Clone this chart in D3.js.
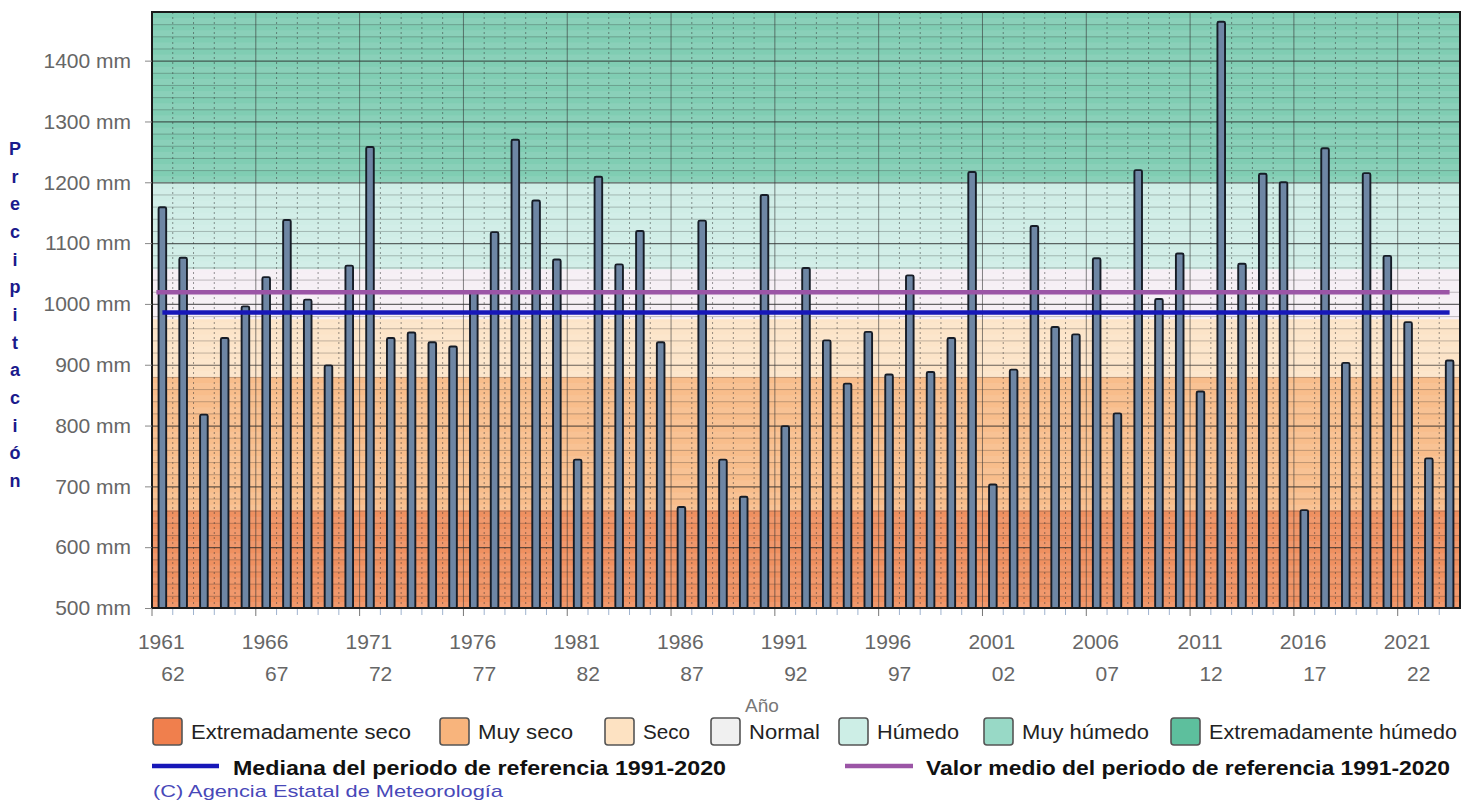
<!DOCTYPE html>
<html><head><meta charset="utf-8">
<script src="https://cdn.jsdelivr.net/npm/d3@7"></script>
<style>
body{margin:0;background:#fff}
svg{display:block}
text{font-family:"Liberation Sans",Arial,sans-serif}
</style>
</head><body>
<svg id="c" width="1464" height="801"></svg>
<script>
// ---------- DATA ----------
const years = [1961,1962,1963,1964,1965,1966,1967,1968,1969,1970,
  1971,1972,1973,1974,1975,1976,1977,1978,1979,1980,
  1981,1982,1983,1984,1985,1986,1987,1988,1989,1990,
  1991,1992,1993,1994,1995,1996,1997,1998,1999,2000,
  2001,2002,2003,2004,2005,2006,2007,2008,2009,2010,
  2011,2012,2013,2014,2015,2016,2017,2018,2019,2020,
  2021,2022,2023];
const precip = [1159,1076,818,944,996,1044,1138,1007,899,1063,
  1258,944,953,937,930,1019,1118,1270,1170,1073,
  744,1209,1065,1120,937,666,1137,744,683,1179,
  799,1059,940,869,954,884,1047,888,944,1217,
  703,892,1128,962,950,1075,820,1220,1008,1083,
  856,1464,1066,1214,1200,661,1256,903,1215,1079,
  970,746,907];
const yTickValues = [500,600,700,800,900,1000,1100,1200,1300,1400];
const medianRef = 986;
const meanRef = 1019;
const classBreaks = [500,661,880,975,1057,1200,1480];
const classFills = ["#ef9060","#f8bd8b","#fce4c8","#f6eff5","#cfede6","#80cdb3"];
const legendLabels = ["Extremadamente seco","Muy seco","Seco","Normal","Húmedo","Muy húmedo","Extremadamente húmedo"];
const legendColors = ["#f07f4d","#f8b47c","#fde2c2","#f0f0f0","#cdeee6","#98d9c6","#5dbf9d"];
const yTitle = "Precipitación";
const xTitle = "Año";
const medianLabel = "Mediana del periodo de referencia 1991-2020";
const meanLabel = "Valor medio del periodo de referencia 1991-2020";
const creditLabel = "(C) Agencia Estatal de Meteorología";

// ---------- LAYOUT ----------
const svg = d3.select("#c");
const m = {l:152, r:1460, t:12, b:608};
const x = d3.scaleBand().domain(years).range([m.l, m.r]);
const y = d3.scaleLinear().domain([500,1480]).range([m.b, m.t]);
const bw = x.bandwidth();

// background classes
const bands = classFills.map((c,i)=>({lo:classBreaks[i], hi:classBreaks[i+1], c}));
svg.append("g").selectAll("rect").data(bands).join("rect")
  .attr("x", m.l).attr("width", m.r-m.l)
  .attr("y", d=>y(d.hi)).attr("height", d=>y(d.lo)-y(d.hi))
  .attr("fill", d=>d.c);

// subtle stripes (every 20 mm)
const stripeVals = d3.range(500, 1480, 20);
svg.append("g").selectAll("rect").data(stripeVals).join("rect")
  .attr("x", m.l).attr("width", m.r-m.l)
  .attr("y", d=>y(d+10)).attr("height", d=>y(d)-y(d+10))
  .attr("fill", "#fff").attr("opacity", 0.08);

// horizontal grid
const g = svg.append("g");
g.selectAll("line.minor").data(d3.range(520,1480,20).filter(v=>v%100!==0)).join("line")
  .attr("x1", m.l).attr("x2", m.r).attr("y1", d=>y(d)+0.5).attr("y2", d=>y(d)+0.5)
  .attr("stroke", "#3a3a3a").attr("stroke-opacity", 0.3).attr("stroke-width", 1);
g.selectAll("line.major").data(yTickValues.slice(1)).join("line")
  .attr("x1", m.l).attr("x2", m.r).attr("y1", d=>y(d)+0.5).attr("y2", d=>y(d)+0.5)
  .attr("stroke", "#2a2a2a").attr("stroke-opacity", 0.7).attr("stroke-width", 1.2);

// vertical grid at year boundaries
g.selectAll("line.v").data(years.slice(1)).join("line")
  .attr("x1", d=>x(d)).attr("x2", d=>x(d)).attr("y1", m.t).attr("y2", m.b)
  .attr("stroke", "#333")
  .attr("stroke-opacity", (d,i)=>((i+1)%5===0)?0.6:0.5)
  .attr("stroke-dasharray", (d,i)=>((i+1)%5===0)?null:"2,3")
  .attr("stroke-width", 1);

// bars
svg.append("g").selectAll("rect").data(years).join("rect")
  .attr("x", d=>x(d)+bw/2-3.8).attr("width", 7.6)
  .attr("y", (d,i)=>y(precip[i])).attr("height", (d,i)=>y(500)-y(precip[i]))
  .attr("rx", 1.5)
  .attr("fill", "#6e86a4").attr("stroke", "#161c26").attr("stroke-width", 1.9);

// reference lines
const x0 = x(years[0])+bw/2, x1 = x(years[years.length-1])+bw/2;
svg.append("line").attr("x1", x0-6).attr("x2", x1).attr("y1", y(meanRef)).attr("y2", y(meanRef))
  .attr("stroke", "#9b55a6").attr("stroke-width", 4.5);
svg.append("line").attr("x1", x0).attr("x2", x1).attr("y1", y(medianRef)).attr("y2", y(medianRef))
  .attr("stroke", "#1717b8").attr("stroke-width", 4.5);

// frame
svg.append("rect").attr("x", m.l).attr("y", m.t).attr("width", m.r-m.l).attr("height", m.b-m.t)
  .attr("fill", "none").attr("stroke", "#1a1a1a").attr("stroke-width", 2);

// y axis
const ya = svg.append("g").attr("transform", `translate(${m.l},0)`)
  .call(d3.axisLeft(y).tickValues(yTickValues).tickFormat(d=>d+" mm").tickSize(7).tickPadding(14));
ya.select(".domain").remove();
ya.selectAll(".tick line").attr("stroke", "#888");
ya.selectAll(".tick text").attr("font-size", 21).attr("fill", "#666")
  .attr("font-family", "\"Liberation Sans\",Arial,sans-serif");

// x axis ticks
const xt = svg.append("g");
xt.selectAll("line").data(years).join("line")
  .attr("x1", d=>x(d)).attr("x2", d=>x(d)).attr("y1", m.b+1).attr("y2", (d,i)=>m.b+(i%5===0?8:7))
  .attr("stroke", (d,i)=>i%5===0?"#777":"#9fb3cf").attr("stroke-width", 1);
const labelIdx = years.map((d,i)=>i).filter(i=>i%5===0 && i+1<years.length);
xt.selectAll("text.top").data(labelIdx).join("text")
  .attr("x", i=>x(years[i+1])+bw/2+1.5).attr("y", 649)
  .attr("text-anchor", "end").attr("font-size", 21).attr("fill", "#666")
  .text(i=>years[i]);
xt.selectAll("text.bot").data(labelIdx).join("text")
  .attr("x", i=>x(years[i+1])+bw/2+1.5).attr("y", 681)
  .attr("text-anchor", "end").attr("font-size", 21).attr("fill", "#666")
  .text(i=>String(years[i+1]).slice(2));

// axis titles
svg.append("text").attr("x", 762).attr("y", 712).attr("text-anchor", "middle")
  .attr("font-size", 19).attr("fill", "#777").text(xTitle);
svg.append("g").selectAll("text").data(Array.from(yTitle)).join("text")
  .attr("x", 15).attr("y", (d,i)=>155+i*27.67).attr("text-anchor", "middle")
  .attr("font-family", "\"DejaVu Sans\",Verdana,sans-serif").attr("font-weight", "bold")
  .attr("font-size", 18).attr("fill", "#1a1a8c").text(d=>d);

// legend row 1
const legX = [152,439,604,710,838,983,1170];
const legW = [220,95,47,71,82,127,248];
const lg = svg.append("g");
legendLabels.forEach((lab,i)=>{
  lg.append("rect").attr("x", legX[i]+1).attr("y", 718).attr("width", 29).attr("height", 27)
    .attr("rx", 3).attr("fill", legendColors[i]).attr("stroke", "#555").attr("stroke-width", 1.6);
  lg.append("text").attr("x", legX[i]+39).attr("y", 739).attr("font-size", 20).attr("fill", "#222")
    .attr("textLength", legW[i]).attr("lengthAdjust", "spacingAndGlyphs").text(lab);
});
// legend row 2
lg.append("line").attr("x1", 152).attr("x2", 219).attr("y1", 766).attr("y2", 766)
  .attr("stroke", "#1717b8").attr("stroke-width", 4.5);
lg.append("text").attr("x", 233).attr("y", 775).attr("font-size", 20).attr("font-weight", "bold")
  .attr("fill", "#111").attr("textLength", 493).attr("lengthAdjust", "spacingAndGlyphs").text(medianLabel);
lg.append("line").attr("x1", 845).attr("x2", 913).attr("y1", 766).attr("y2", 766)
  .attr("stroke", "#9b55a6").attr("stroke-width", 4.5);
lg.append("text").attr("x", 926).attr("y", 775).attr("font-size", 20).attr("font-weight", "bold")
  .attr("fill", "#111").attr("textLength", 524).attr("lengthAdjust", "spacingAndGlyphs").text(meanLabel);
// credit
lg.append("text").attr("x", 153).attr("y", 797).attr("font-size", 17).attr("fill", "#4848b8")
  .attr("textLength", 350).attr("lengthAdjust", "spacingAndGlyphs").text(creditLabel);
</script>
</body></html>
